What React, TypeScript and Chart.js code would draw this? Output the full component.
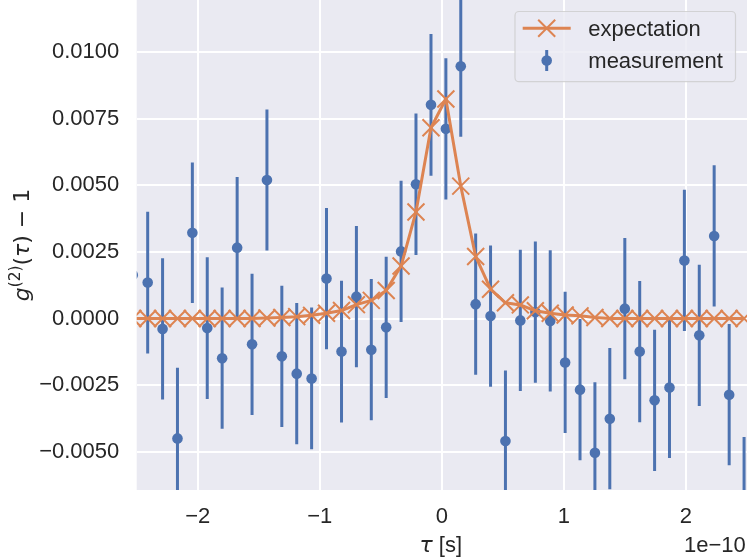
import React, { useEffect, useRef } from "react";
import { Chart, registerables } from "chart.js";

Chart.register(...registerables);

// tau in units of 1e-10 s
const TAU = [
  -2.532, -2.41, -2.288, -2.166, -2.044, -1.922, -1.8, -1.677, -1.555, -1.433,
  -1.311, -1.189, -1.067, -0.945, -0.822, -0.7, -0.578, -0.456, -0.334, -0.212,
  -0.089, 0.033, 0.155, 0.277, 0.399, 0.521, 0.643, 0.766, 0.888, 1.01,
  1.132, 1.254, 1.376, 1.499, 1.621, 1.743, 1.865, 1.987, 2.109, 2.231,
  2.354, 2.476,
];

const MEASUREMENT = [
  0.00163, 0.00135, -0.00039, -0.0045, 0.00322, -0.00036, -0.00149, 0.00266, -0.00097, 0.0052,
  -0.00142, -0.00207, -0.00225, 0.0015, -0.00124, 0.00082, -0.00117, -0.00033, 0.00252, 0.00504,
  0.00802, 0.00712, 0.00947, 0.00054, 0.00009, -0.0046, -0.00007, 0.00024, -0.00009, -0.00165,
  -0.00267, -0.00504, -0.00376, 0.00037, -0.00124, -0.00307, -0.00259, 0.00218, -0.00063, 0.0031,
  -0.00286, -0.0071,
];

const ERRORS = [
  0.00265, 0.00266, 0.00265, 0.00265, 0.00264, 0.00266, 0.00265, 0.00265, 0.00265, 0.00265,
  0.00265, 0.00265, 0.00266, 0.00265, 0.00266, 0.00265, 0.00265, 0.00265, 0.00265, 0.00266,
  0.00266, 0.00265, 0.00265, 0.00265, 0.00265, 0.00265, 0.00265, 0.00265, 0.00265, 0.00265,
  0.00265, 0.00265, 0.00265, 0.00265, 0.00265, 0.00265, 0.00265, 0.00265, 0.00265, 0.00265,
  0.00265, 0.00265,
];

const EXPECTATION = [
  0, 0, 0, 0, 0, 0, 0, 0, 0, 0.00002,
  0.00004, 0.00007, 0.00012, 0.0002, 0.0003, 0.00052, 0.00068, 0.00105, 0.00197, 0.004,
  0.00716, 0.00824, 0.00497, 0.00233, 0.0011, 0.00059, 0.00051, 0.00029, 0.0002, 0.00013,
  0.0001, 0.00004, 0, 0, 0, 0, 0, 0, 0, 0,
  0, 0,
];

const X_TICKS = [-2, -1, 0, 1, 2];
const Y_TICKS = [-0.005, -0.0025, 0, 0.0025, 0.005, 0.0075, 0.01];
const X_MIN = -2.5;
const X_MAX = 2.5;
const Y_MIN = -0.006437;
const Y_MAX = 0.011956;

const BG = "#EAEAF2";
const BLUE = "#4C72B0";
const ORANGE = "#DD8452";
const TEXT = "#262626";
const SANS = '"Liberation Sans", Arial, sans-serif';
const MATH = '"DejaVu Sans", sans-serif';
const FS = 22;

const bgPlugin = {
  id: "bgPlugin",
  beforeDraw(chart: any) {
    const { ctx, chartArea: a } = chart;
    ctx.save();
    ctx.fillStyle = "#ffffff";
    ctx.fillRect(0, 0, chart.width, chart.height);
    ctx.fillStyle = BG;
    ctx.fillRect(a.left, a.top, a.right - a.left, a.bottom - a.top);
    ctx.restore();
  },
};

const errPlugin = {
  id: "errPlugin",
  beforeDatasetDraw(chart: any, args: any) {
    if (args.index !== 1) return;
    const { ctx, chartArea: a } = chart;
    const xs = chart.scales.x;
    const ys = chart.scales.y;
    ctx.save();
    ctx.beginPath();
    ctx.rect(a.left, a.top, a.right - a.left, a.bottom - a.top);
    ctx.clip();
    ctx.strokeStyle = BLUE;
    ctx.lineWidth = 3;
    ctx.lineCap = "butt";
    TAU.forEach((t, i) => {
      const px = xs.getPixelForValue(t);
      ctx.beginPath();
      ctx.moveTo(px, ys.getPixelForValue(MEASUREMENT[i] - ERRORS[i]));
      ctx.lineTo(px, ys.getPixelForValue(MEASUREMENT[i] + ERRORS[i]));
      ctx.stroke();
    });
    ctx.restore();
  },
};

function drawParts(ctx: CanvasRenderingContext2D, parts: { t: string; f: string; dy: number }[], cx: number, by: number) {
  let total = 0;
  parts.forEach((p) => {
    ctx.font = p.f;
    total += ctx.measureText(p.t).width;
  });
  let x = cx - total / 2;
  ctx.textAlign = "left";
  ctx.textBaseline = "alphabetic";
  parts.forEach((p) => {
    ctx.font = p.f;
    ctx.fillText(p.t, x, by + p.dy);
    x += ctx.measureText(p.t).width;
  });
}

const labelPlugin = {
  id: "labelPlugin",
  afterDraw(chart: any) {
    const { ctx, chartArea: a } = chart;
    ctx.save();
    ctx.fillStyle = TEXT;

    // y axis label
    ctx.save();
    ctx.translate(28.5, (a.top + a.bottom) / 2);
    ctx.rotate(-Math.PI / 2);
    drawParts(
      ctx,
      [
        { t: "g", f: `oblique ${FS}px ${MATH}`, dy: 0 },
        { t: "(2)", f: `${FS * 0.7}px ${MATH}`, dy: -8.5 },
        { t: "(", f: `${FS}px ${MATH}`, dy: 0 },
        { t: "τ", f: `oblique ${FS}px ${MATH}`, dy: 0 },
        { t: ")", f: `${FS}px ${MATH}`, dy: 0 },
        { t: " − 1", f: `${FS}px ${MATH}`, dy: 0 },
      ],
      0,
      0
    );
    ctx.restore();

    // x axis label
    drawParts(
      ctx,
      [
        { t: "τ", f: `oblique ${FS}px ${MATH}`, dy: 0 },
        { t: " [s]", f: `${FS}px ${SANS}`, dy: 0 },
      ],
      440.8,
      551.5
    );

    // offset text
    ctx.font = `${FS}px ${SANS}`;
    ctx.textAlign = "right";
    ctx.textBaseline = "alphabetic";
    ctx.fillText("1e−10", 745.7, 551.5);

    // legend
    const lx = 515, ly = 11.5, lw = 220.5, lh = 70.2, r = 4;
    ctx.beginPath();
    ctx.moveTo(lx + r, ly);
    ctx.lineTo(lx + lw - r, ly);
    ctx.arcTo(lx + lw, ly, lx + lw, ly + r, r);
    ctx.lineTo(lx + lw, ly + lh - r);
    ctx.arcTo(lx + lw, ly + lh, lx + lw - r, ly + lh, r);
    ctx.lineTo(lx + r, ly + lh);
    ctx.arcTo(lx, ly + lh, lx, ly + lh - r, r);
    ctx.lineTo(lx, ly + r);
    ctx.arcTo(lx, ly, lx + r, ly, r);
    ctx.closePath();
    ctx.fillStyle = "rgba(234,234,242,0.8)";
    ctx.fill();
    ctx.strokeStyle = "rgba(204,204,204,0.8)";
    ctx.lineWidth = 1.2;
    ctx.stroke();

    // expectation sample
    ctx.strokeStyle = ORANGE;
    ctx.lineWidth = 3;
    ctx.beginPath();
    ctx.moveTo(522.7, 28.3);
    ctx.lineTo(570.7, 28.3);
    ctx.stroke();
    ctx.lineWidth = 2;
    const h = 8.5;
    ctx.beginPath();
    ctx.moveTo(546.7 - h, 28.3 - h);
    ctx.lineTo(546.7 + h, 28.3 + h);
    ctx.moveTo(546.7 - h, 28.3 + h);
    ctx.lineTo(546.7 + h, 28.3 - h);
    ctx.stroke();

    // measurement sample
    ctx.strokeStyle = BLUE;
    ctx.lineWidth = 3;
    ctx.beginPath();
    ctx.moveTo(546.7, 50);
    ctx.lineTo(546.7, 71);
    ctx.stroke();
    ctx.fillStyle = BLUE;
    ctx.beginPath();
    ctx.arc(546.7, 60.5, 5.3, 0, Math.PI * 2);
    ctx.fill();

    ctx.fillStyle = TEXT;
    ctx.font = `${FS}px ${SANS}`;
    ctx.textAlign = "left";
    ctx.textBaseline = "alphabetic";
    ctx.fillText("expectation", 588.3, 36);
    ctx.fillText("measurement", 588.3, 67.7);

    ctx.restore();
  },
};

export default function App() {
  const ref = useRef<HTMLCanvasElement>(null);

  useEffect(() => {
    if (!ref.current) return;
    const chart = new Chart(ref.current, {
      type: "scatter",
      data: {
        datasets: [
          {
            label: "expectation",
            data: TAU.map((t, i) => ({ x: t, y: EXPECTATION[i] })),
            showLine: true,
            borderColor: ORANGE,
            backgroundColor: ORANGE,
            borderWidth: 3,
            borderJoinStyle: "round",
            pointStyle: "crossRot",
            pointRadius: 12,
            pointBorderWidth: 2,
            pointBorderColor: ORANGE,
            pointBackgroundColor: ORANGE,
            clip: 0,
          } as any,
          {
            label: "measurement",
            data: TAU.map((t, i) => ({ x: t, y: MEASUREMENT[i] })),
            showLine: false,
            borderColor: BLUE,
            backgroundColor: BLUE,
            pointStyle: "circle",
            pointRadius: 5.3,
            pointBorderWidth: 0,
            pointBackgroundColor: BLUE,
            clip: 0,
          } as any,
        ],
      },
      options: {
        animation: false,
        responsive: false,
        devicePixelRatio: 1,
        layout: { padding: 0, autoPadding: false },
        events: [],
        plugins: { legend: { display: false }, tooltip: { enabled: false } },
        scales: {
          x: {
            type: "linear",
            min: X_MIN,
            max: X_MAX,
            afterBuildTicks: (s: any) => {
              s.ticks = X_TICKS.map((v) => ({ value: v }));
            },
            afterFit: (s: any) => {
              s.height = 70;
              s.paddingLeft = 0;
              s.paddingRight = 0;
            },
            grid: { color: "#ffffff", lineWidth: 2, drawTicks: false },
            border: { display: false },
            ticks: {
              padding: 14,
              color: TEXT,
              font: { family: SANS, size: FS },
              maxRotation: 0,
              callback: (v: any) => String(v).replace("-", "−"),
            },
          },
          y: {
            type: "linear",
            min: Y_MIN,
            max: Y_MAX,
            afterBuildTicks: (s: any) => {
              s.ticks = Y_TICKS.map((v) => ({ value: v }));
            },
            afterFit: (s: any) => {
              s.width = 136.7;
              s.paddingTop = 0;
              s.paddingBottom = 0;
            },
            grid: { color: "#ffffff", lineWidth: 2, drawTicks: false },
            border: { display: false },
            ticks: {
              padding: 17.4,
              color: TEXT,
              font: { family: SANS, size: FS, lineHeight: 0.02 },
              callback: (v: any) => Number(v).toFixed(4).replace("-", "−"),
            },
          },
        },
      },
      plugins: [bgPlugin, errPlugin, labelPlugin],
    });
    return () => chart.destroy();
  }, []);

  return (
    <div style={{ position: "absolute", left: 0, top: 0, width: 747, height: 560, background: "#fff" }}>
      <canvas ref={ref} width={747} height={560} style={{ display: "block", width: 747, height: 560 }} />
    </div>
  );
}
